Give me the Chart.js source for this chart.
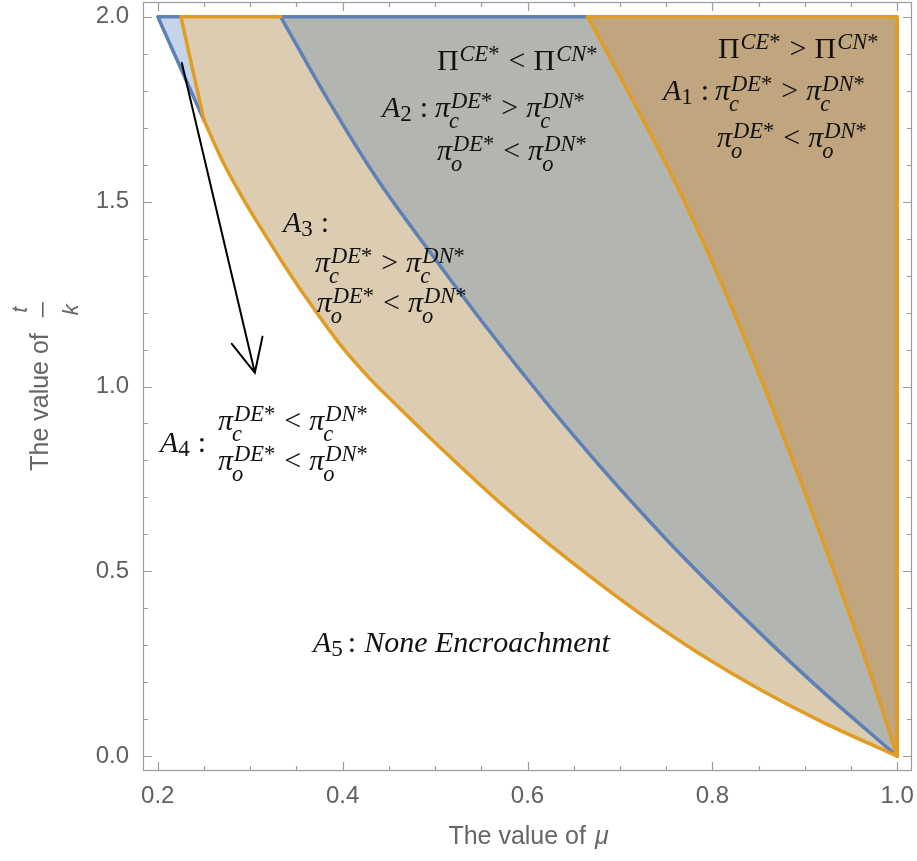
<!DOCTYPE html>
<html>
<head>
<meta charset="utf-8">
<title>Encroachment regions</title>
<script src="https://cdn.jsdelivr.net/npm/chart.js@4.4.1/dist/chart.umd.min.js"></script>
<style>
  html, body { margin: 0; background: #fff; }
  canvas { display: block; }
</style>
</head>
<body>
<canvas id="regions" width="917" height="861"></canvas>
<script>
// axis ticks
const xTicks = [0.2, 0.4, 0.6, 0.8, 1.0]
const xMinor = [0.25, 0.3, 0.35, 0.45, 0.5, 0.55, 0.65, 0.7, 0.75, 0.85, 0.9, 0.95]
const yTicks = [0.0, 0.5, 1.0, 1.5, 2.0]
const yMinor = [0.1, 0.2, 0.3, 0.4, 0.6, 0.7, 0.8, 0.9, 1.1, 1.2, 1.3, 1.4, 1.6, 1.7, 1.8, 1.9]

// lower orange boundary (A3 above, A5 below)
const lowerMu = [0.25, 0.27, 0.293, 0.315, 0.34, 0.369, 0.40, 0.43, 0.463, 0.517, 0.571, 0.625, 0.679, 0.733, 0.787, 0.852, 0.917, 1.0]
const lowerTk = [1.72, 1.61, 1.505, 1.415, 1.316, 1.21, 1.105, 1.02, 0.938, 0.808, 0.684, 0.570, 0.465, 0.366, 0.276, 0.18, 0.095, 0.0]

// blue boundary (A3 | A2)
const blueMu = [0.333, 0.384, 0.438, 0.50, 0.56, 0.65, 0.75, 0.85, 0.917, 1.0]
const blueTk = [2.0, 1.776, 1.559, 1.345, 1.146, 0.867, 0.587, 0.337, 0.18, 0.0]

// right orange boundary (A2 | A1)
const rightMu = [0.665, 0.72, 0.769, 0.82, 0.87, 0.92, 0.973, 1.0]
const rightTk = [2.0, 1.745, 1.505, 1.22, 0.91, 0.58, 0.208, 0.0]

// small blue wedge in the top left corner
const wedgeMu = [0.2, 0.225, 0.25]
const wedgeTk = [2.0, 2.0, 1.72]

// arrow pointing from the wedge to the A4 label
const arrowMu = [0.226, 0.305]
const arrowTk = [1.875, 1.037]


const ORANGE = '#e19c24'
const BLUE = '#5e81b5'
const sans = '"Liberation Sans", Arial, sans-serif'
const serif = '"Liberation Serif", "Times New Roman", serif'

Chart.defaults.font.family = sans

const pts = (mus, tks) => mus.map((m, i) => ({ x: m, y: tks[i] }))
const rev = a => a.slice().reverse()

const lower = pts(lowerMu, lowerTk)
const blue = pts(blueMu, blueTk)
const right = pts(rightMu, rightTk)
const wedge = pts(wedgeMu, wedgeTk)
const corner = { x: rightMu[rightMu.length - 1], y: rightTk[0] }
const last = a => a[a.length - 1]

const area = (data, color) => ({
    data,
    showLine: true,
    fill: 'shape',
    backgroundColor: color,
    borderColor: 'rgba(0,0,0,0)',
    borderWidth: 0,
    pointRadius: 0,
    order: 5
})

// curved edges get monotone smoothing, straight ones stay straight
const edge = (data, color, order, curved) => ({
    data,
    showLine: true,
    fill: false,
    borderColor: color,
    borderWidth: 3.5,
    borderJoinStyle: 'round',
    borderCapStyle: 'round',
    cubicInterpolationMode: curved ? 'monotone' : 'default',
    tension: 0,
    pointRadius: 0,
    order
})


// --- math-ish text: latin letters and pi in italic, the rest upright
const BIG = 30
const SMALL = 22.5

const charFont = (ch, size) => (/[A-Za-zπ]/.test(ch) ? 'italic ' : '') + size + 'px ' + serif

const drawRun = (ctx, s, x, y, size) => {
    for (const ch of s) {
        ctx.font = charFont(ch, size)
        ctx.fillText(ch, x, y)
        x += ctx.measureText(ch).width
    }
    return x
}

const drawParts = (ctx, x, y, parts) => {
    for (const p of parts) {
        if (p.op) {
            x += p.l ?? 8
            x = drawRun(ctx, p.op, x, y, BIG)
            x += p.r ?? 8
            continue
        }
        if (p.t) {
            x = drawRun(ctx, p.t, x, y, BIG)
            continue
        }
        const x0 = drawRun(ctx, p.b, x, y, BIG)
        let end = x0
        if (p.sup) end = Math.max(end, drawRun(ctx, p.sup, x0 + 1, y - 9, SMALL))
        if (p.sub) {
            const digit = /\d/.test(p.sub)
            end = Math.max(end, drawRun(ctx, p.sub, x0 - (digit ? 0 : 1), y + (digit ? 4 : 11), digit ? 23 : SMALL))
        }
        x = end + 1
    }
    return x
}

const P = s => ({ b: 'Π', sup: s })
const pc = s => ({ b: 'π', sup: s, sub: 'c' })
const po = s => ({ b: 'π', sup: s, sub: 'o' })
const A = n => ({ b: 'A', sub: n })
const colon = { op: ':', l: 7, r: 0 }

const notes = [
    { mu: 0.806, tk: 1.889, parts: [P('CE*'), { op: '>' }, P('CN*')] },
    { mu: 0.7466, tk: 1.775, parts: [A('1'), colon] },
    { mu: 0.8028, tk: 1.775, parts: [pc('DE*'), { op: '>' }, pc('DN*')] },
    { mu: 0.805, tk: 1.648, parts: [po('DE*'), { op: '<' }, po('DN*')] },

    { mu: 0.502, tk: 1.856, parts: [P('CE*'), { op: '<' }, P('CN*')] },
    { mu: 0.4426, tk: 1.729, parts: [A('2'), colon] },
    { mu: 0.4999, tk: 1.729, parts: [pc('DE*'), { op: '>' }, pc('DN*')] },
    { mu: 0.502, tk: 1.613, parts: [po('DE*'), { op: '<' }, po('DN*')] },

    { mu: 0.3355, tk: 1.418, parts: [A('3'), colon] },
    { mu: 0.370, tk: 1.310, parts: [pc('DE*'), { op: '>' }, pc('DN*')] },
    { mu: 0.372, tk: 1.2015, parts: [po('DE*'), { op: '<' }, po('DN*')] },

    { mu: 0.2024, tk: 0.823, parts: [A('4'), colon] },
    { mu: 0.2651, tk: 0.882, parts: [pc('DE*'), { op: '<' }, pc('DN*')] },
    { mu: 0.2651, tk: 0.774, parts: [po('DE*'), { op: '<' }, po('DN*')] },

    { mu: 0.3679, tk: 0.2818, parts: [A('5'), { op: ':', l: 4, r: 8 }, { t: 'None Encroachment' }] }
]


// frame with inward ticks on all sides, axis titles, labels and the arrow
const decor = {
    id: 'decor',
    afterDraw(chart) {
        const { ctx, chartArea: ca, scales: { x, y } } = chart

        ctx.save()

        // labels
        ctx.fillStyle = '#111'
        ctx.textBaseline = 'alphabetic'
        ctx.textAlign = 'left'
        notes.forEach(n => drawParts(ctx, x.getPixelForValue(n.mu), y.getPixelForValue(n.tk), n.parts))

        // arrow
        const ax0 = x.getPixelForValue(arrowMu[0]), ay0 = y.getPixelForValue(arrowTk[0])
        const ax1 = x.getPixelForValue(arrowMu[1]), ay1 = y.getPixelForValue(arrowTk[1])
        const ang = Math.atan2(ay1 - ay0, ax1 - ax0)
        ctx.strokeStyle = '#000'
        ctx.lineWidth = 2
        ctx.lineCap = 'round'
        ctx.beginPath()
        ctx.moveTo(ax0, ay0)
        ctx.lineTo(ax1, ay1)
        ctx.moveTo(ax1 - 37 * Math.cos(ang - 0.44), ay1 - 37 * Math.sin(ang - 0.44))
        ctx.lineTo(ax1, ay1)
        ctx.lineTo(ax1 - 37 * Math.cos(ang + 0.44), ay1 - 37 * Math.sin(ang + 0.44))
        ctx.stroke()

        // frame
        ctx.strokeStyle = '#9c9c9c'
        ctx.lineWidth = 1.2
        ctx.lineCap = 'butt'
        ctx.strokeRect(ca.left + 0.5, ca.top + 0.5, ca.width - 1, ca.height - 1)

        ctx.beginPath()
        const xt = (v, len) => {
            const px = Math.round(x.getPixelForValue(v)) + 0.5
            ctx.moveTo(px, ca.bottom); ctx.lineTo(px, ca.bottom - len)
            ctx.moveTo(px, ca.top); ctx.lineTo(px, ca.top + len)
        }
        const yt = (v, len) => {
            const py = Math.round(y.getPixelForValue(v)) + 0.5
            ctx.moveTo(ca.left, py); ctx.lineTo(ca.left + len, py)
            ctx.moveTo(ca.right, py); ctx.lineTo(ca.right - len, py)
        }
        xTicks.forEach(v => xt(v, 9))
        xMinor.forEach(v => xt(v, 5))
        yTicks.forEach(v => yt(v, 9))
        yMinor.forEach(v => yt(v, 5))
        ctx.stroke()

        // x title
        ctx.fillStyle = '#666'
        ctx.textBaseline = 'middle'
        const xa = 'The value of '
        ctx.font = '25px ' + sans
        const wa = ctx.measureText(xa).width
        ctx.font = 'italic 25px ' + sans
        const wm = ctx.measureText('μ').width
        const tx = (ca.left + ca.right) / 2 - (wa + wm) / 2
        ctx.font = '25px ' + sans
        ctx.fillText(xa, tx, 837)
        ctx.font = 'italic 25px ' + sans
        ctx.fillText('μ', tx + wa + 2, 837)

        // y title, rotated, with t over k
        ctx.save()
        ctx.translate(48, (ca.top + ca.bottom) / 2)
        ctx.rotate(-Math.PI / 2)
        ctx.textBaseline = 'alphabetic'
        ctx.font = '25px ' + sans
        const ya = 'The value of'
        const wy = ctx.measureText(ya).width
        ctx.font = 'italic 22px ' + sans
        const wt = ctx.measureText('t').width
        const wk = ctx.measureText('k').width
        const wf = Math.max(wt, wk) + 4
        const gap = 16
        let u = -(wy + gap + wf) / 2
        ctx.font = '25px ' + sans
        ctx.fillText(ya, u, 0)
        u += wy + gap
        ctx.font = 'italic 22px ' + sans
        ctx.fillText('t', u + (wf - wt) / 2, -21)
        ctx.fillText('k', u + (wf - wk) / 2, 30)
        ctx.fillRect(u, -6, wf, 1.6)
        ctx.restore()

        ctx.restore()
    }
}


new Chart('regions', {
    type: 'scatter',
    data: {
        datasets: [
            // outlines on top
            edge(right, ORANGE, 0, true),
            edge([right[0], corner, last(right)], ORANGE, 0, false),
            edge(lower, ORANGE, 0, true),
            edge([blue[0], wedge[1], lower[0]], ORANGE, 0, false),
            edge(blue, BLUE, 1, true),
            edge([blue[0], right[0]], BLUE, 1, false),
            edge([wedge[2], wedge[0], wedge[1]], BLUE, 1, false),

            // regions
            area(wedge, '#c6d4ea'),
            area([wedge[1], ...lower, ...rev(blue).slice(1)], '#dbccb2'),
            area([...blue, ...rev(right).slice(1)], '#b3b5b1'),
            area([...right, corner], '#c0a57e')
        ]
    },
    options: {
        responsive: false,
        animation: false,
        layout: { padding: { left: 0, right: 5, top: 2, bottom: 0 } },
        plugins: {
            legend: { display: false },
            tooltip: { enabled: false }
        },
        scales: {
            x: {
                type: 'linear',
                min: 0.184,
                max: 1.016,
                grid: { display: false },
                border: { display: false },
                ticks: {
                    autoSkip: false,
                    maxRotation: 0,
                    padding: 3,
                    color: '#606060',
                    font: { size: 24 },
                    callback: v => v.toFixed(1)
                },
                afterBuildTicks: s => { s.ticks = xTicks.map(v => ({ value: v })) },
                afterFit: s => {
                    s.height = 90
                    s.paddingLeft = 0
                    s.paddingRight = 0
                }
            },
            y: {
                type: 'linear',
                min: -0.04,
                max: 2.04,
                grid: { display: false },
                border: { display: false },
                ticks: {
                    autoSkip: false,
                    padding: 6,
                    color: '#606060',
                    font: { size: 24 },
                    callback: v => v.toFixed(1)
                },
                afterBuildTicks: s => { s.ticks = yTicks.map(v => ({ value: v })) },
                afterFit: s => {
                    s.width = 143
                    s.paddingTop = 0
                    s.paddingBottom = 0
                }
            }
        }
    },
    plugins: [decor]
})
</script>
</body>
</html>
